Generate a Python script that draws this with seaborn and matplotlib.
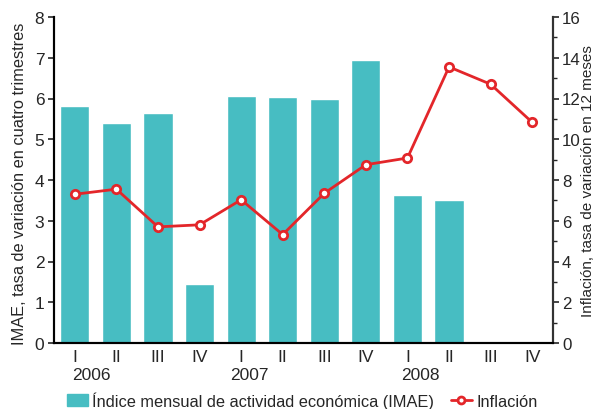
import pandas as pd
import seaborn as sns
import matplotlib.pyplot as plt
from matplotlib.patches import Patch
from matplotlib.lines import Line2D

# quarters 2006-2008
quarters = ["I", "II", "III", "IV", "I", "II", "III", "IV", "I", "II", "III", "IV"]
years = ["2006", "2007", "2008"]
imae = [5.82, 5.40, 5.65, 1.46, 6.07, 6.04, 5.99, 6.95, 3.63, 3.52, None, None]
inflacion = [7.30, 7.55, 5.70, 5.80, 7.03, 5.32, 7.35, 8.75, 9.08, 13.55, 12.70, 10.83]

bar_color = "#47BDC2"
line_color = "#E3262A"

sns.set_style("white")
plt.rcParams["font.family"] = ["Liberation Sans", "DejaVu Sans"]

df = pd.DataFrame({"pos": range(12), "imae": imae, "inflacion": inflacion})

fig = plt.figure(figsize=(5.97, 4.10), dpi=100)
ax = fig.add_axes([54 / 597, 1 - 344 / 410, (553 - 54) / 597, (344 - 18) / 410])

sns.barplot(data=df, x="pos", y="imae", color=bar_color, width=0.7,
            saturation=1, ax=ax, native_scale=True)
ax.set_xlim(-0.5, 11.5)
ax.set_ylim(0, 8)
ax.set_yticks(range(0, 9))
ax.set_xticks(range(12))
ax.set_xticklabels(quarters, fontsize=12.5)
ax.tick_params(axis="x", length=0, pad=4)
ax.tick_params(axis="y", length=4, width=1.2, direction="out", labelsize=12.5, pad=3, left=True)
ax.set_xlabel("")
ax.set_ylabel("IMAE, tasa de variación en cuatro trimestres", fontsize=11.8)
ax.yaxis.set_label_coords(-0.054, 0.49)

for x, yr in zip([0.4, 4.2, 8.3], years):
    ax.text(x, -0.6, yr, ha="center", va="top", fontsize=12.5)

ax2 = ax.twinx()
sns.lineplot(data=df, x="pos", y="inflacion", color=line_color, lw=2,
             marker="o", markersize=6, markerfacecolor="white",
             markeredgecolor=line_color, markeredgewidth=2, ax=ax2)
ax2.set_ylim(0, 16)
ax2.set_yticks(range(0, 17, 2))
ax2.set_yticks(range(1, 17, 2), minor=True)
ax2.tick_params(axis="y", which="major", length=4, width=1.2, labelsize=12.2, pad=2.5, right=True)
ax2.tick_params(axis="y", which="minor", length=3, width=1, right=True)
ax2.set_xlabel("")
ax2.set_ylabel("Inflación, tasa de variación en 12 meses", fontsize=11, rotation=90)
ax2.yaxis.set_label_coords(1.056, 0.5)

for a in (ax, ax2):
    a.spines["top"].set_visible(False)
    for s in ("left", "right", "bottom"):
        a.spines[s].set_color("black")
        a.spines[s].set_linewidth(1.5)
ax2.spines["right"].set_color("#333333")

handles = [Patch(color=bar_color),
           Line2D([0], [0], color=line_color, lw=2, marker="o", markersize=5,
                  markerfacecolor="white", markeredgewidth=2)]
labels = ["Índice mensual de actividad económica (IMAE)", "Inflación"]
fig.legend(handles, labels, loc="center left", bbox_to_anchor=(67 / 597, 1 - 401 / 410), ncol=2,
           frameon=False, fontsize=11.8, handlelength=1.3, handletextpad=0.25,
           columnspacing=1.0, borderpad=0, borderaxespad=0)

fig.savefig("out.png", dpi=100)
